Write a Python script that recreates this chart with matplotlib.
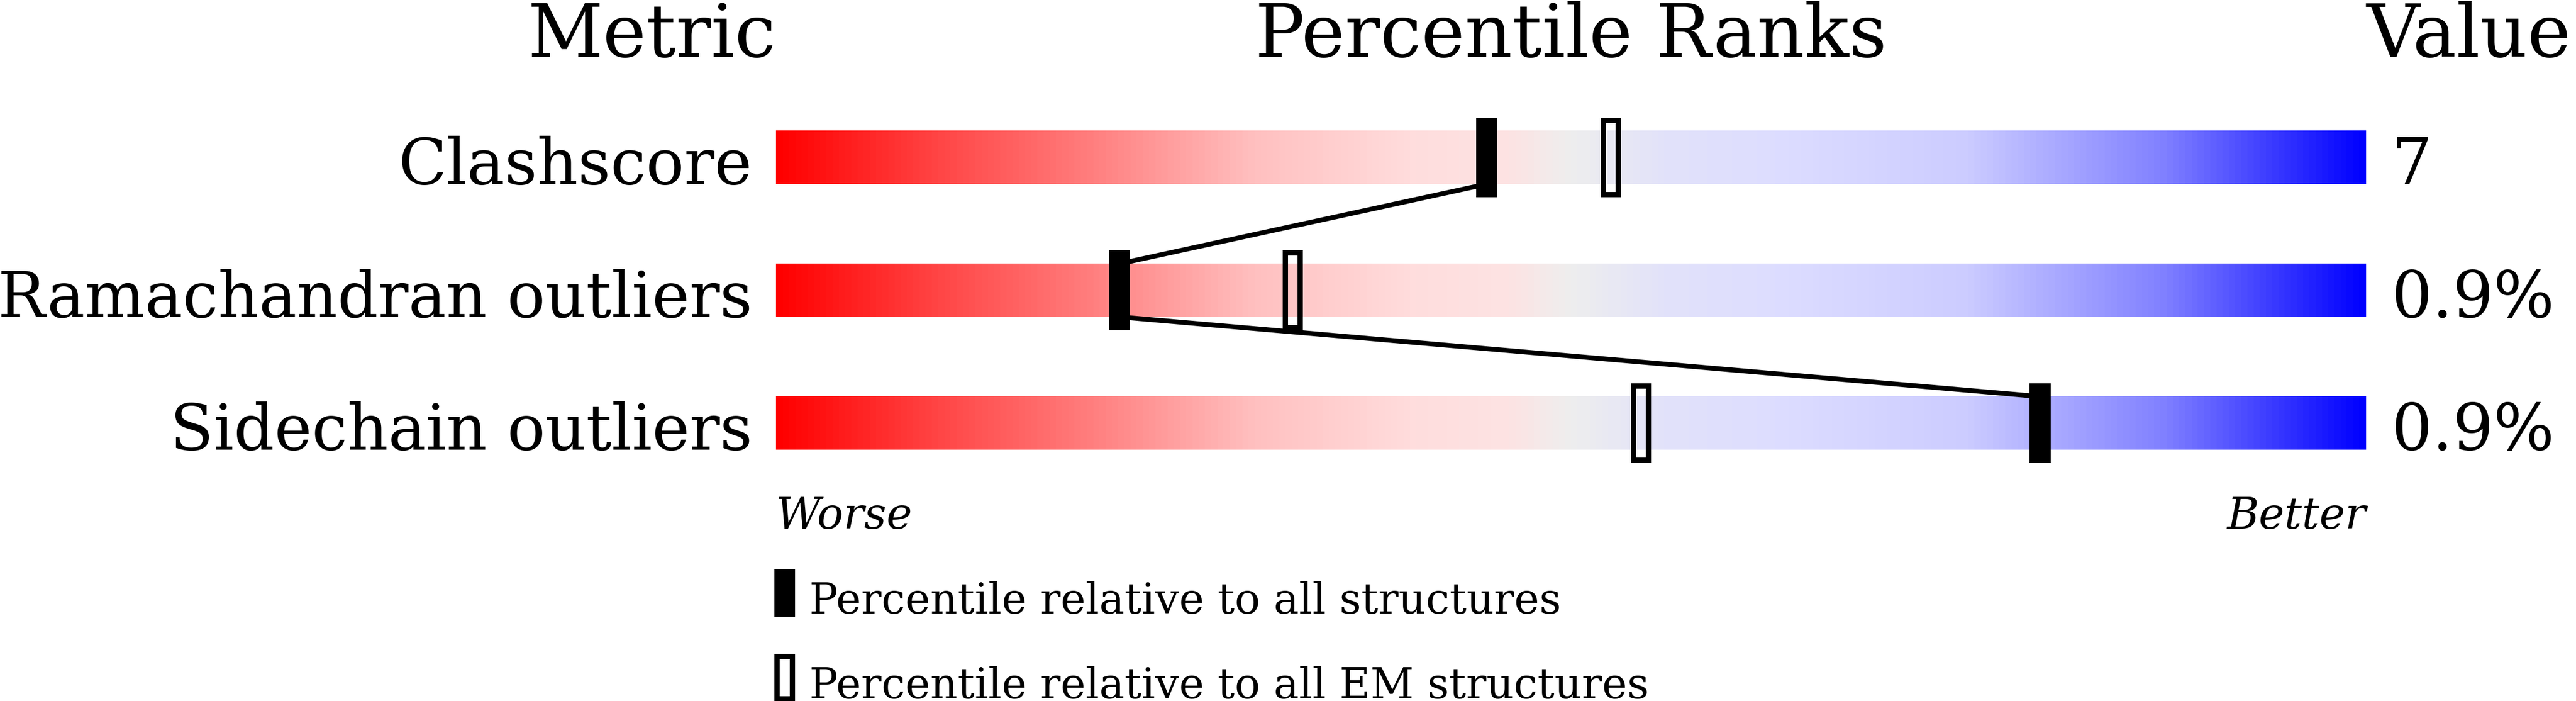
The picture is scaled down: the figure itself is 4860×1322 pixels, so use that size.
import numpy as np
import matplotlib
matplotlib.use("Agg")
import matplotlib.pyplot as plt
from matplotlib.colors import LinearSegmentedColormap
from matplotlib.patches import Rectangle

plt.rcParams['font.family'] = ['DejaVu Serif']

metrics = ["Clashscore", "Ramachandran outliers", "Sidechain outliers"]
pct_all = [44.7, 21.6, 79.5]   # black markers
pct_em = [52.5, 32.5, 54.4]    # hollow markers
values = ["7", "0.9%", "0.9%"]

# slider colours, worse (red) -> better (blue)
cmap = LinearSegmentedColormap.from_list("slider", [
    (0.00, "#ff0000"), (0.10, "#ff4545"), (0.20, "#ff8080"),
    (0.30, "#ffc0c0"), (0.40, "#ffdddd"), (0.46, "#fde3e3"),
    (0.50, "#eeeeee"), (0.56, "#e2e2fa"), (0.63, "#ddddff"),
    (0.75, "#ccccff"), (0.875, "#8080ff"), (1.00, "#0000ff")])

W, H = 4860, 1322
fig = plt.figure(figsize=(W / 100, H / 100), dpi=100)
ax = fig.add_axes([1464 / W, 0, 3000 / W, 1])
ax.axis("off")

half_bar = 0.2
half_mark = 0.3
grad = np.linspace(0, 1, 1000).reshape(1, -1)
for i, name in enumerate(metrics):
    ax.imshow(grad, cmap=cmap, aspect="auto", interpolation="bilinear",
              extent=(0, 100, i + half_bar, i - half_bar), zorder=1)
    ax.text(-1.5, i + half_bar, name, ha="right", va="baseline",
            fontsize=86, clip_on=False)
    ax.text(101.6, i + half_bar, values[i], ha="left", va="baseline",
            fontsize=87, clip_on=False)

# connecting line between the black markers
for i in range(len(metrics) - 1):
    ax.plot([pct_all[i], pct_all[i + 1]], [i + half_bar, i + 1 - half_bar],
            color="black", lw=6.5, solid_capstyle="butt", zorder=2)

mw = 1.33
for i in range(len(metrics)):
    ax.add_patch(Rectangle((pct_all[i] - mw / 2, i - half_mark), mw, 2 * half_mark,
                           facecolor="black", edgecolor="none", zorder=3))
    ax.add_patch(Rectangle((pct_em[i] - 0.47, i - half_mark + 0.02), 0.94,
                           2 * half_mark - 0.04, facecolor="none",
                           edgecolor="black", lw=7.2, zorder=3))

ax.text(0, -0.758, "Metric", ha="right", va="baseline", fontsize=100, clip_on=False)
ax.text(50, -0.758, "Percentile Ranks", ha="center", va="baseline", fontsize=100)
ax.text(100, -0.758, "Value", ha="left", va="baseline", fontsize=100, clip_on=False)

ax.text(0, 2.794, "Worse", ha="left", va="baseline", fontsize=59, style="italic")
ax.text(100, 2.794, "Better", ha="right", va="baseline", fontsize=59, style="italic")

# legend
ax.add_patch(Rectangle((0.55 - 0.65, 3.277 - 0.18), 1.3, 0.36,
                       facecolor="black", edgecolor="none", clip_on=False))
ax.text(2.1, 3.433, "Percentile relative to all structures", ha="left",
        va="baseline", fontsize=57.6, clip_on=False)
ax.add_patch(Rectangle((0.55 - 0.47, 3.916 - 0.16), 0.94, 0.32,
                       facecolor="none", edgecolor="black", lw=7.2, clip_on=False))
ax.text(2.1, 4.072, "Percentile relative to all EM structures", ha="left",
        va="baseline", fontsize=57.6, clip_on=False)

ax.set_xlim(0, 100)
ax.set_ylim(4.092, -1.186)

fig.savefig("out.png", dpi=100)
